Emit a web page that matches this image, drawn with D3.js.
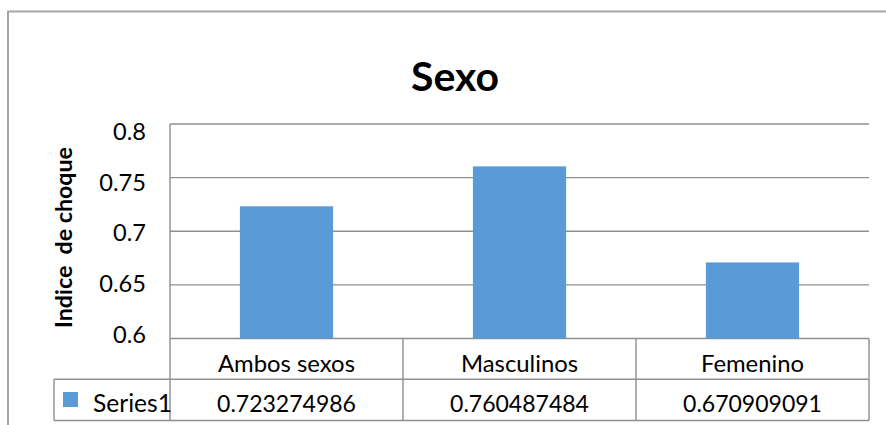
<!DOCTYPE html>
<html>
<head>
<meta charset="utf-8">
<script src="https://cdn.jsdelivr.net/npm/d3@7"></script>
<style>
  html, body { margin: 0; padding: 0; background: #fff; }
  svg { display: block; font-family: Lato, "Open Sans", sans-serif; }
</style>
</head>
<body>
<svg id="chart" width="886" height="425"></svg>
<script>
// ---- data ----
const categories = ["Ambos sexos", "Masculinos", "Femenino"];
const seriesName = "Series1";
const values = [0.723274986, 0.760487484, 0.670909091];
const valueLabels = ["0.723274986", "0.760487484", "0.670909091"];
const yTicks = [0.6, 0.65, 0.7, 0.75, 0.8];
const yTickLabels = ["0.6", "0.65", "0.7", "0.75", "0.8"];
const chartTitle = "Sexo";
const yAxisTitle = "Indice  de choque";

// ---- layout ----
const W = 886, H = 425;
const plotL = 170, plotR = 869, plotT = 124, plotB = 338.5;
const row1B = 379.3, row2B = 420.5, legendL = 54;
const gridColor = "#8f8f8f";
const barColor = "#5b9bd5";

const svg = d3.select("#chart");

// font size that makes a sample string reach a target width
function fitSize(sample, target, weight) {
  const t = svg.append("text").attr("font-size", 20).attr("font-weight", weight || "normal")
    .style("white-space", "pre").text(sample);
  const w = t.node().getComputedTextLength();
  t.remove();
  return w > 0 ? 20 * target / w : 20;
}
const tickSize = fitSize("0.75", 46.7);
const catSize = fitSize("Ambos sexos", 137);
const valSize = fitSize("0.723274986", 139);
const serSize = fitSize("Series1", 79);
const titleSize = fitSize("Sexo", 88, "bold");
const axisTitleSize = fitSize(yAxisTitle, 181, "bold");

// outer chart frame
svg.append("path")
  .attr("d", `M8,${H + 5} L8,11.5 L${W + 5},11.5`)
  .attr("fill", "none").attr("stroke", "#a6a6a6").attr("stroke-width", 2);

const x = d3.scaleBand().domain(categories).range([plotL, plotR]).paddingInner(0).paddingOuter(0);
const y = d3.scaleLinear().domain([0.6, 0.8]).range([plotB, plotT]);
// label placement scale (labels sit slightly compressed relative to gridlines)
const yLabel = d3.scaleLinear().domain([0.6, 0.8]).range([333.7, 131]);

// gridlines
svg.append("g").selectAll("line").data(yTicks).join("line")
  .attr("x1", plotL).attr("x2", plotR)
  .attr("y1", d => y(d)).attr("y2", d => y(d))
  .attr("stroke", gridColor).attr("stroke-width", 1.4);

// bars
const barW = x.bandwidth() * 0.4;
svg.append("g").selectAll("rect").data(values).join("rect")
  .attr("x", (d, i) => x(categories[i]) + (x.bandwidth() - barW) / 2)
  .attr("width", barW)
  .attr("y", d => y(d))
  .attr("height", d => y(0.6) - y(d))
  .attr("fill", barColor);

// y axis line (extends down through the data table)
svg.append("line").attr("x1", plotL).attr("x2", plotL).attr("y1", plotT).attr("y2", row2B)
  .attr("stroke", gridColor).attr("stroke-width", 1.4);

// tick labels
svg.append("g").selectAll("text").data(yTicks).join("text")
  .attr("x", 146).attr("y", d => yLabel(d))
  .attr("text-anchor", "end").attr("dominant-baseline", "central")
  .attr("font-size", tickSize).attr("fill", "#000")
  .text((d, i) => yTickLabels[i]);

// title
svg.append("text").attr("x", 455).attr("y", 91)
  .attr("text-anchor", "middle").attr("font-size", titleSize).attr("font-weight", "bold")
  .attr("fill", "#000").text(chartTitle);

// y axis title
svg.append("text")
  .attr("transform", "translate(71.5,237.5) rotate(-90)")
  .attr("text-anchor", "middle").attr("font-size", axisTitleSize).attr("font-weight", "bold")
  .style("white-space", "pre")
  .attr("fill", "#000").text(yAxisTitle);

// ---- data table ----
const tg = svg.append("g").attr("stroke", gridColor).attr("stroke-width", 1.4);
tg.append("line").attr("x1", legendL).attr("x2", plotR).attr("y1", row1B).attr("y2", row1B);
tg.append("line").attr("x1", legendL).attr("x2", plotR).attr("y1", row2B).attr("y2", row2B);
tg.append("line").attr("x1", legendL).attr("x2", legendL).attr("y1", row1B).attr("y2", row2B);
const bounds = categories.slice(1).map(c => x(c)).concat([plotR]);
tg.selectAll("line.sep").data(bounds).join("line").attr("class", "sep")
  .attr("x1", d => d).attr("x2", d => d).attr("y1", plotB).attr("y2", row2B);

// category labels
svg.append("g").selectAll("text").data(categories).join("text")
  .attr("x", d => x(d) + x.bandwidth() / 2).attr("y", 371.5)
  .attr("text-anchor", "middle").attr("font-size", catSize).attr("fill", "#000")
  .style("white-space", "pre")
  .text(d => d);

// value labels
svg.append("g").selectAll("text").data(valueLabels).join("text")
  .attr("x", (d, i) => x(categories[i]) + x.bandwidth() / 2).attr("y", 412)
  .attr("text-anchor", "middle").attr("font-size", valSize).attr("fill", "#000")
  .text(d => d);

// legend key
svg.append("rect").attr("x", 63).attr("y", 392).attr("width", 15).attr("height", 15).attr("fill", barColor);
svg.append("text").attr("x", 93).attr("y", 412).attr("font-size", serSize).attr("fill", "#000").text(seriesName);
</script>
</body>
</html>
